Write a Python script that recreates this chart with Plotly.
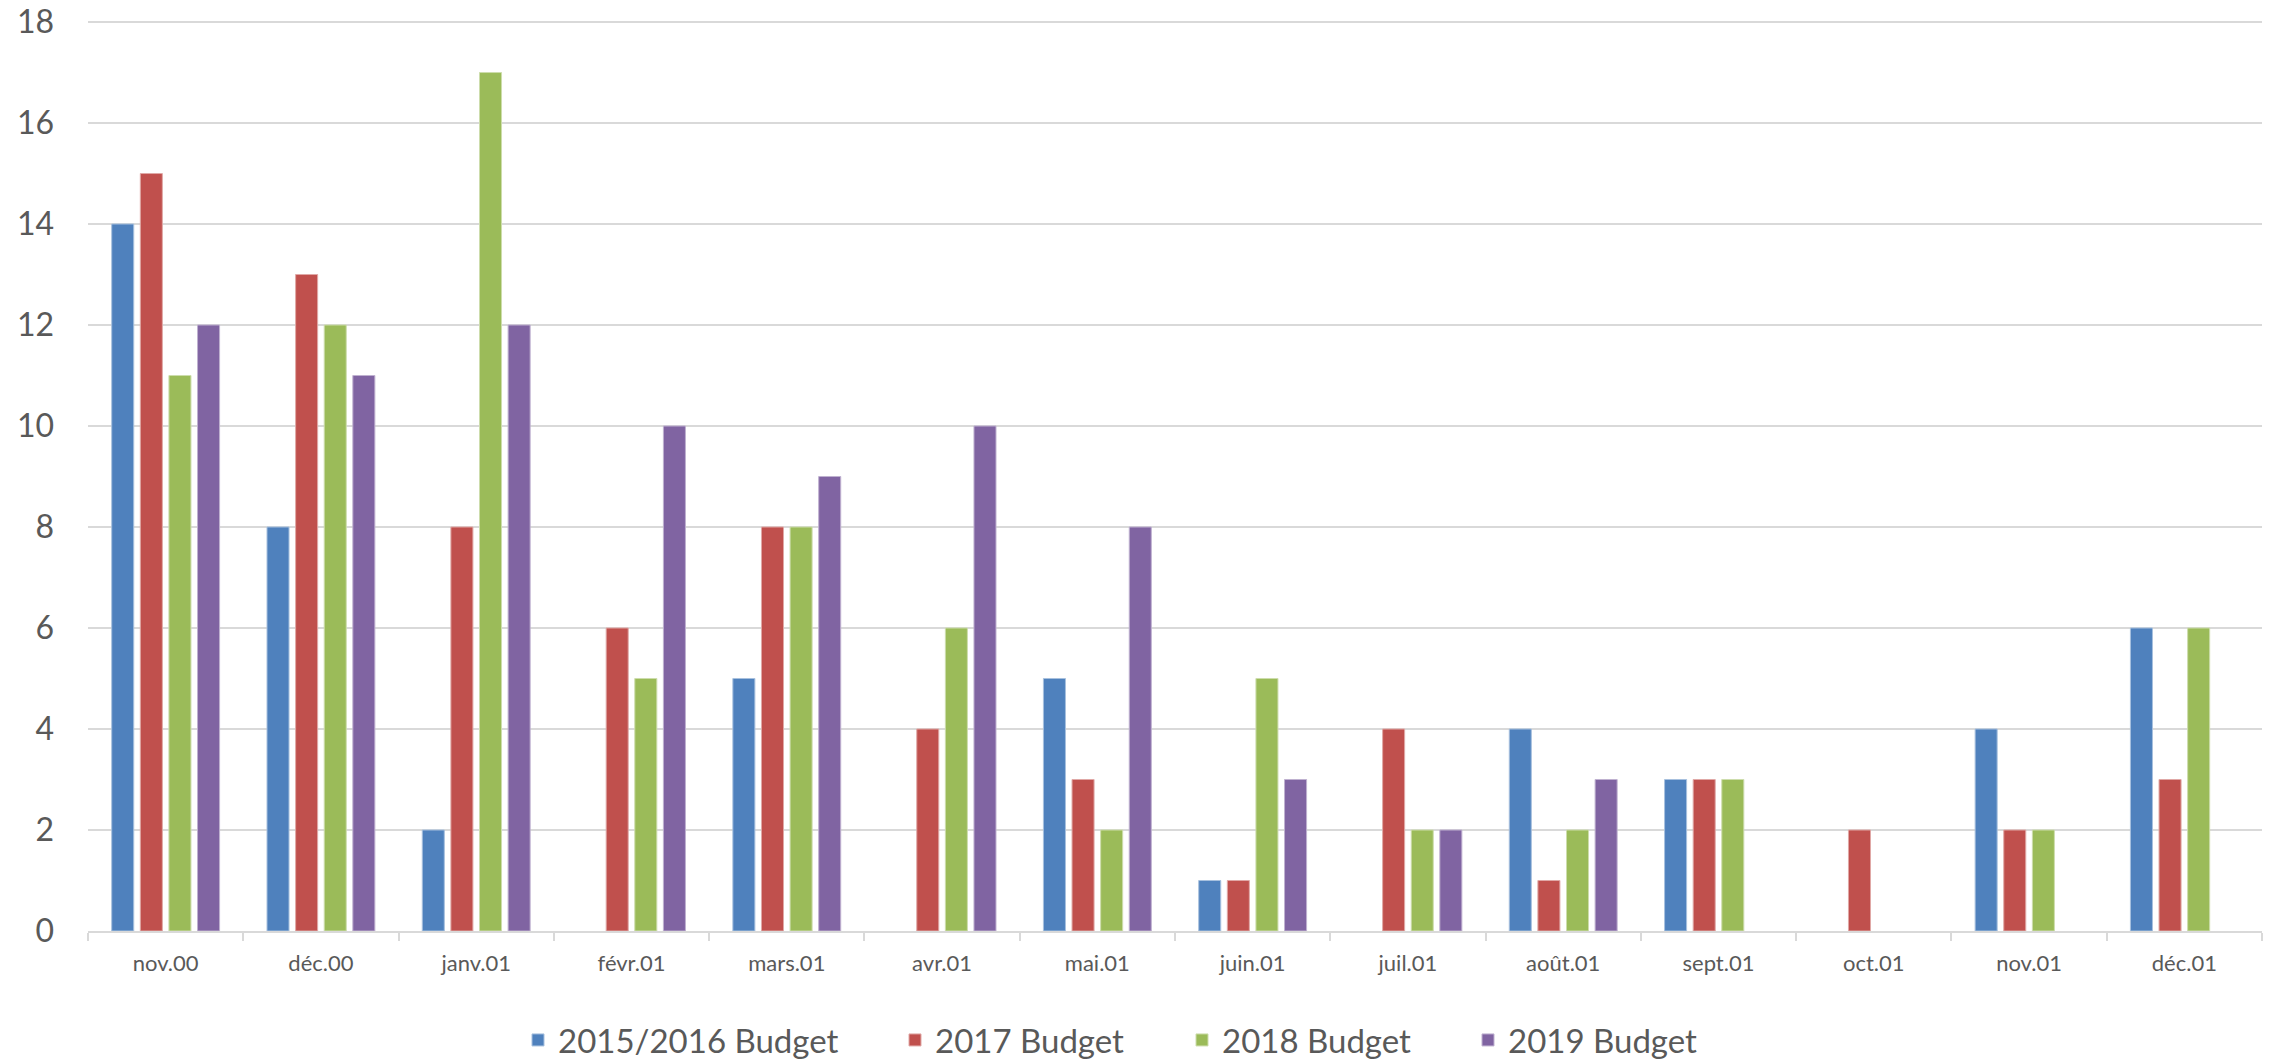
import plotly.graph_objects as go

categories = ["nov.00", "déc.00", "janv.01", "févr.01", "mars.01", "avr.01", "mai.01",
              "juin.01", "juil.01", "août.01", "sept.01", "oct.01", "nov.01", "déc.01"]

budget_2015_2016 = [14, 8, 2, None, 5, None, 5, 1, None, 4, 3, None, 4, 6]
budget_2017 = [15, 13, 8, 6, 8, 4, 3, 1, 4, 1, 3, 2, 2, 3]
budget_2018 = [11, 12, 17, 5, 8, 6, 2, 5, 2, 2, 3, None, 2, 6]
budget_2019 = [12, 11, 12, 10, 9, 10, 8, 3, 2, 3, None, None, None, None]

series_names = ["2015/2016 Budget", "2017 Budget", "2018 Budget", "2019 Budget"]
series_values = [budget_2015_2016, budget_2017, budget_2018, budget_2019]
colors = ["#4F81BD", "#C0504D", "#9BBB59", "#8064A2"]
edge_colors = ["#A7C0DE", "#E0A8A6", "#CDDDAC", "#BFB1D0"]

W, H = 2270, 1061
ml, mr, mt, mb = 88, 8, 20, 130
plot_w = W - ml - mr
plot_h = H - mt - mb

legend_keys = ["legend", "legend2", "legend3", "legend4"]
legend_x_px = [518, 895, 1182, 1468]

fig = go.Figure()
for name, vals, c, ec, lk in zip(series_names, series_values, colors, edge_colors, legend_keys):
    fig.add_trace(go.Bar(
        x=categories, y=vals, name=name,
        marker=dict(color=c, line=dict(color=ec, width=1)),
        legend=lk,
    ))

font_family = "Lato, 'Open Sans', sans-serif"
txt = "#595959"

layout_legends = {}
for lk, xp in zip(legend_keys, legend_x_px):
    layout_legends[lk] = dict(
        x=(xp - ml) / plot_w, xanchor="left",
        y=-(1040 - (H - mb)) / plot_h, yanchor="middle",
        orientation="h",
        font=dict(family=font_family, size=33, color=txt),
        bgcolor="rgba(0,0,0,0)",
    )

fig.update_layout(
    width=W, height=H,
    margin=dict(l=ml, r=mr, t=mt, b=mb, autoexpand=False),
    paper_bgcolor="white", plot_bgcolor="white",
    barmode="group", bargap=0.263, bargroupgap=0.23,
    showlegend=True,
    font=dict(family=font_family, color=txt),
    **layout_legends,
)

fig.update_yaxes(
    range=[0, 18.04], tickvals=list(range(0, 19, 2)), showgrid=True,
    gridcolor="#D9D9D9", gridwidth=1.5,
    zeroline=False, showline=False, ticks="", automargin=False,
    tickfont=dict(family=font_family, size=32, color=txt),
    ticklabelstandoff=33, ticklabeloverflow="allow",
)
fig.update_xaxes(
    type="category", showline=True, linecolor="#D9D9D9", linewidth=1.5,
    ticks="outside", tickson="boundaries", ticklen=8, tickcolor="#D9D9D9", tickwidth=1.5,
    tickfont=dict(family=font_family, size=22, color=txt), automargin=False,
    ticklabelstandoff=12, ticklabeloverflow="allow",
)

fig.write_html("out.html", config={"displayModeBar": False},
               post_script="document.body.style.margin='0';")
